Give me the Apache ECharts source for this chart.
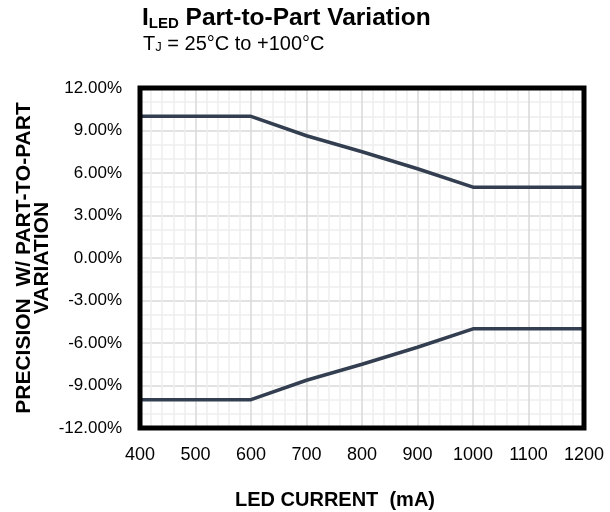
<!DOCTYPE html>
<html>
<head>
<meta charset="utf-8">
<script src="https://cdn.jsdelivr.net/npm/echarts@6/dist/echarts.min.js"></script>
<style>
html,body{margin:0;padding:0;background:#fff;}
#chart{width:610px;height:512px;}
</style>
</head>
<body>
<div id="chart"></div>
<script>
// LED current (mA)
const current = [400, 500, 600, 700, 800, 900, 1000, 1100, 1200];
// Precision with part-to-part variation (%)
const upperLimit = [10, 10, 10, 8.63, 7.5, 6.3, 5, 5, 5];
const lowerLimit = [-10, -10, -10, -8.63, -7.5, -6.3, -5, -5, -5];
const titleText = 'Part-to-Part Variation';
const subtitleText = ' = 25°C to +100°C';
const xAxisTitle = 'LED CURRENT  (mA)';
const yAxisTitle = 'PRECISION  W/ PART-TO-PART\nVARIATION';

const FONT = '"Liberation Sans", Arial, sans-serif';
const chart = echarts.init(document.getElementById('chart'), null, {renderer: 'canvas'});

function pairs(xs, ys) { return xs.map((x, i) => [x, ys[i]]); }

const lineStyle = {color: '#333f50', width: 3.5};
const GRID = {left: 140, top: 88, width: 444, height: 340};

chart.setOption({
  animation: false,
  backgroundColor: '#ffffff',
  title: [
    {
      text: '{a|I}{b|LED}{a| ' + titleText + '}',
      left: 142, top: 6, padding: 0,
      textStyle: {
        rich: {
          a: {fontFamily: FONT, fontSize: 24.5, fontWeight: 'bold', color: '#000'},
          b: {fontFamily: FONT, fontSize: 15, fontWeight: 'bold', color: '#000', verticalAlign: 'bottom'}
        }
      }
    },
    {
      text: '{a|T}{b|J}{a|' + subtitleText + '}',
      left: 143, top: 34, padding: 0,
      textStyle: {
        fontWeight: 'normal',
        rich: {
          a: {fontFamily: FONT, fontSize: 20, fontWeight: 'normal', color: '#000'},
          b: {fontFamily: FONT, fontSize: 13, fontWeight: 'normal', color: '#000', verticalAlign: 'bottom'}
        }
      }
    }
  ],
  grid: Object.assign({show: false}, GRID),
  xAxis: {
    type: 'value', min: 400, max: 1200, interval: 100,
    axisLine: {show: false}, axisTick: {show: false},
    axisLabel: {fontFamily: FONT, fontSize: 18, color: '#000', margin: 18,
      formatter: v => String(v)},
    splitLine: {show: true, lineStyle: {color: '#d9d9d9', width: 1.5}},
    minorTick: {show: false, splitNumber: 5},
    minorSplitLine: {show: true, lineStyle: {color: '#eeeeee', width: 1.5}}
  },
  yAxis: {
    type: 'value', min: -12, max: 12, interval: 3,
    axisLine: {show: false}, axisTick: {show: false},
    axisLabel: {fontFamily: FONT, fontSize: 17, color: '#000', margin: 18,
      formatter: v => v.toFixed(2) + '%'},
    splitLine: {show: true, lineStyle: {color: '#d9d9d9', width: 1.5}},
    minorTick: {show: false, splitNumber: 3},
    minorSplitLine: {show: true, lineStyle: {color: '#eeeeee', width: 1.5}}
  },
  graphic: [
    {
      type: 'rect', silent: true, z: 100,
      shape: {x: GRID.left, y: GRID.top, width: GRID.width, height: GRID.height},
      style: {fill: null, stroke: '#000', lineWidth: 5}
    },
    {
      type: 'text', x: 335, y: 500, silent: true,
      style: {text: xAxisTitle, font: 'bold 20px ' + FONT, fill: '#000', align: 'center', verticalAlign: 'middle'}
    },
    {
      type: 'text', x: 33, y: 258, rotation: Math.PI / 2, silent: true,
      style: {text: yAxisTitle, font: 'bold 21px ' + FONT, fill: '#000', align: 'center', verticalAlign: 'middle', lineHeight: 18}
    }
  ],
  series: [
    {type: 'line', data: pairs(current, upperLimit), showSymbol: false, symbol: 'none', lineStyle: lineStyle, z: 5},
    {type: 'line', data: pairs(current, lowerLimit), showSymbol: false, symbol: 'none', lineStyle: lineStyle, z: 5}
  ]
});
</script>
</body>
</html>
